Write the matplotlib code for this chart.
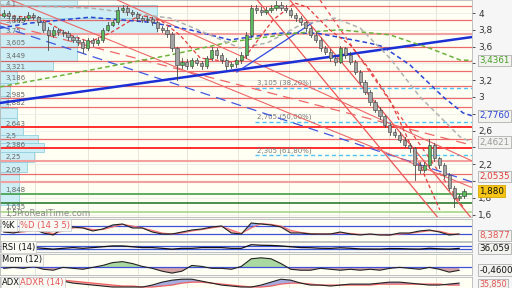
import matplotlib
matplotlib.use("Agg")
import matplotlib.pyplot as plt
from matplotlib.patches import Rectangle

# ---- price data (one candle per session) ----
opens = [3.97, 4.00, 3.96, 3.94, 3.92, 3.94, 3.98, 3.95, 3.89, 3.80, 3.74, 3.80, 3.77, 3.76, 3.71, 3.68,
         3.66, 3.58, 3.68, 3.64, 3.68, 3.80, 3.86, 3.89, 4.04, 4.06, 4.01, 3.99, 3.94, 3.92, 3.93, 3.89,
         3.82, 3.80, 3.75, 3.58, 3.38, 3.42, 3.37, 3.44, 3.41, 3.37, 3.46, 3.56, 3.50, 3.44, 3.37, 3.39,
         3.44, 3.50, 3.74, 4.06, 4.04, 4.01, 4.04, 4.06, 4.10, 4.06, 4.04, 3.98, 3.94, 3.89, 3.82, 3.74,
         3.68, 3.58, 3.54, 3.46, 3.42, 3.58, 3.50, 3.42, 3.30, 3.18, 3.06, 2.94, 2.85, 2.77, 2.67, 2.58,
         2.55, 2.49, 2.43, 2.39, 2.19, 2.13, 2.19, 2.43, 2.27, 2.19, 2.07, 1.92, 1.80, 1.82]
closes = [4.00, 3.96, 3.94, 3.92, 3.94, 3.98, 3.95, 3.89, 3.80, 3.74, 3.80, 3.77, 3.76, 3.71, 3.68, 3.66,
          3.58, 3.68, 3.64, 3.68, 3.80, 3.86, 3.89, 4.04, 4.06, 4.01, 3.99, 3.94, 3.92, 3.93, 3.89, 3.82,
          3.80, 3.75, 3.58, 3.38, 3.42, 3.37, 3.44, 3.41, 3.37, 3.46, 3.56, 3.50, 3.44, 3.37, 3.39, 3.44,
          3.50, 3.74, 4.06, 4.04, 4.01, 4.04, 4.06, 4.10, 4.06, 4.04, 3.98, 3.94, 3.89, 3.82, 3.74, 3.68,
          3.58, 3.54, 3.46, 3.42, 3.58, 3.50, 3.42, 3.30, 3.18, 3.06, 2.94, 2.85, 2.77, 2.67, 2.58, 2.55,
          2.49, 2.43, 2.39, 2.19, 2.13, 2.19, 2.43, 2.27, 2.19, 2.07, 1.92, 1.80, 1.82, 1.88]
highs = [4.03, 4.02, 3.98, 3.96, 3.96, 4.01, 4.00, 3.97, 3.91, 3.83, 3.83, 3.82, 3.80, 3.78, 3.73, 3.71,
         3.68, 3.70, 3.70, 3.71, 3.82, 3.89, 3.92, 4.07, 4.09, 4.08, 4.04, 4.01, 3.96, 3.96, 3.95, 3.91,
         3.85, 3.83, 3.77, 3.60, 3.46, 3.45, 3.47, 3.47, 3.43, 3.49, 3.59, 3.58, 3.52, 3.46, 3.42, 3.47,
         3.53, 3.77, 4.10, 4.10, 4.07, 4.07, 4.09, 4.14, 4.13, 4.09, 4.06, 4.00, 3.96, 3.91, 3.84, 3.77,
         3.70, 3.61, 3.57, 3.49, 3.61, 3.60, 3.53, 3.44, 3.32, 3.20, 3.08, 2.97, 2.88, 2.79, 2.69, 2.62,
         2.58, 2.52, 2.45, 2.41, 2.22, 2.22, 2.50, 2.45, 2.29, 2.21, 2.09, 1.94, 1.85, 1.90]
lows = [3.95, 3.94, 3.91, 3.89, 3.90, 3.92, 3.93, 3.86, 3.77, 3.56, 3.72, 3.74, 3.73, 3.68, 3.65, 3.62,
        3.52, 3.56, 3.61, 3.62, 3.66, 3.78, 3.84, 3.87, 4.01, 3.98, 3.96, 3.91, 3.89, 3.89, 3.86, 3.79,
        3.77, 3.72, 3.55, 3.20, 3.35, 3.33, 3.34, 3.38, 3.33, 3.35, 3.44, 3.47, 3.41, 3.33, 3.34, 3.36,
        3.41, 3.47, 3.72, 4.00, 3.98, 3.99, 4.01, 4.03, 4.03, 4.01, 3.95, 3.91, 3.86, 3.79, 3.71, 3.65,
        3.55, 3.51, 3.43, 3.38, 3.40, 3.47, 3.39, 3.27, 3.15, 3.03, 2.91, 2.82, 2.74, 2.64, 2.55, 2.52,
        2.46, 2.40, 2.35, 2.01, 2.09, 2.11, 2.16, 2.24, 2.16, 2.04, 1.89, 1.69, 1.77, 1.80]

month_starts = [6.3, 17.0, 27.1, 37.0, 47.3, 57.6, 67.7, 77.8, 87.3]

# horizontal support / resistance levels
red_levels = [4.083, 3.917, 3.595, 3.43, 3.31, 3.13, 2.99, 2.88, 2.5, 2.08]
strong_levels = [2.643, 2.39]
soft_levels = [3.75, 2.24, 1.99]
green_levels = [1.845, 1.74, 1.63]
green_colors = ['#43a047', '#2e7d32', '#a5d68a']

# fibonacci retracements
fib_levels = [3.105, 2.705, 2.305]
fib_labels = ['3,105 (38,20%)', '2,705 (50,00%)', '2,305 (61,80%)']
fib_start = 50.8

# volume at price profile
profile_edges = [4.155, 4.095, 3.94, 3.762, 3.595, 3.429, 3.321, 3.167, 3.012, 2.869, 2.75, 2.643,
                 2.548, 2.452, 2.345, 2.226, 2.107, 1.988, 1.845, 1.714]
profile_volume = [15.6, 31.7, 31.7, 15.6, 15.6, 10.7, 3.4, 2.0, 1.6, 3.4, 3.4, 4.6, 7.7, 8.9, 6.9,
                  5.5, 3.8, 3.8, 3.8]
profile_labels = ['4,1', '3,865', '3,75', '3,605', '3,449', '3,321', '3,186', '2,985', '2,882',
                  '2,643', '2,5', '2,386', '2,25', '2,09', '1,848', '1,635']

# moving averages (index, price)
ma_blue_x = [-0.75, 5.3, 17.4, 29.6, 37.6, 45.7, 55.2, 63.3, 67.9, 74.0, 76.6, 82.1, 88.8, 92.8, 94.6]
ma_blue_y = [3.82, 3.88, 3.95, 3.89, 3.80, 3.68, 3.76, 3.76, 3.71, 3.64, 3.60, 3.38, 3.00, 2.81, 2.776]
ma_green_x = [-0.75, 17.4, 33.6, 45.7, 58.9, 67.9, 78.0, 86.1, 92.2, 94.6]
ma_green_y = [3.12, 3.32, 3.50, 3.655, 3.76, 3.80, 3.74, 3.58, 3.44, 3.436]
ma_gray_x = [-0.75, 17.4, 33.6, 41.7, 47.7, 53.2, 59.9, 66.9, 72.0, 78.0, 84.1, 89.2, 92.2, 94.6]
ma_gray_y = [4.095, 4.06, 3.94, 3.738, 3.583, 3.643, 3.857, 3.94, 3.821, 3.464, 3.0, 2.702, 2.524, 2.462]
ma_red_x = [-0.75, 7.3, 13.4, 17.4, 21.5, 27.5, 31.6, 35.6, 39.7, 45.7, 48.3, 54.4, 58.8, 61.3, 65.9,
            70.0, 74.0, 78.0, 84.1, 88.1]
ma_red_y = [3.976, 3.94, 3.738, 3.655, 3.762, 3.976, 3.917, 3.738, 3.464, 3.417, 3.44, 3.917, 4.119,
            4.071, 3.798, 3.619, 3.321, 2.964, 2.19, 1.655]

# trend lines: ((x1, y1), (x2, y2))
trend_main = ((-0.75, 2.929), (94.6, 3.714))
trend_thin = ((47.1, 3.298), (62.3, 3.881))
trend_blue_dash = ((-0.75, 3.845), (94.6, 1.988))
channel_solid = [((51.2, 4.155), (88.1, 1.536)), ((57.8, 4.155), (94.8, 1.536))]
channel_dash = [((63.9, 4.155), (93.2, 1.655))]
fan_lines = [((26.1, 4.071), (94.2, 2.25)), ((17.4, 3.774), (45.7, 3.095))]
fan_dash = [((33.6, 3.357), (67.9, 2.833))]

# indicators, sampled every second session
ind_x = list(range(0, 94, 2))
stoch_k = [40, 35, 45, 55, 35, 25, 60, 65, 60, 45, 55, 75, 80, 60, 60, 40, 30, 30, 40, 50, 55, 65, 70, 35,
           30, 85, 80, 75, 65, 35, 35, 30, 30, 30, 40, 30, 25, 30, 25, 25, 35, 35, 45, 50, 40, 25, 30]
stoch_d = [42, 38, 40, 48, 45, 32, 45, 60, 62, 52, 52, 65, 78, 70, 60, 48, 35, 30, 35, 45, 52, 60, 68, 50,
           33, 60, 82, 78, 70, 48, 38, 32, 30, 30, 35, 33, 28, 28, 27, 25, 30, 33, 40, 46, 44, 32, 28]
rsi = [37, 37, 48, 48, 37, 25, 37, 48, 37, 48, 60, 72, 72, 60, 48, 48, 37, 25, 37, 37, 48, 48, 48, 37,
       37, 90, 82, 80, 72, 60, 48, 46, 38, 36, 45, 38, 28, 27, 26, 34, 33, 28, 26, 38, 30, 25, 36]
mom = [-0.15, 0.0, -0.15, 0.15, -0.3, -0.45, 0.0, -0.15, -0.3, 0.0, 0.3, 0.75, 0.9, 0.6, 0.15, -0.15,
       -0.6, -0.9, -0.6, 0.3, 0.15, -0.15, -0.15, -0.3, 0.15, 1.35, 1.5, 1.35, 0.6, -0.3, -0.45, -0.45,
       -0.15, -0.3, -0.45, -0.3, -0.45, -0.3, -0.45, -0.15, 0.0, -0.15, -0.3, 0.0, -0.3, -0.75, -0.46]
adx = [58, 58, 56, 56, 54, 54, 52, 48, 46, 44, 42, 40, 40, 40, 40, 44, 50, 54, 56, 56, 52, 48, 44, 42,
       40, 40, 44, 50, 56, 54, 48, 44, 44, 42, 44, 46, 46, 46, 48, 50, 50, 48, 46, 44, 44, 46, 48]
adxr = [58, 58, 58, 58, 56, 56, 54, 52, 50, 48, 46, 44, 42, 42, 40, 40, 42, 44, 48, 50, 50, 48, 46, 44,
        42, 40, 40, 42, 46, 48, 48, 46, 44, 44, 44, 44, 44, 44, 46, 46, 46, 46, 46, 46, 46, 44, 44]

BG = '#fffff4'
XL = (-0.75, 94.6)
W, H = 512, 288

fig = plt.figure(figsize=(5.12, 2.88), dpi=100, facecolor='#f6f6f6')


def panel(top, bottom):
    a = fig.add_axes([0, 1 - bottom / H, 472 / W, (bottom - top) / H])
    a.set_facecolor(BG)
    a.set_xlim(*XL)
    a.set_xticks([])
    for s in a.spines.values():
        s.set_color('#b8b8b8')
        s.set_linewidth(0.6)
    for m in month_starts:
        a.axvline(m, color='#e2e2d8', lw=0.6, zorder=0)
    return a


def value_box(a, y, txt, color, fc='#f2f2ee', ec='#b0b0b0', size=6.3):
    a.text(1.015, y, txt, transform=a.get_yaxis_transform(), fontsize=size, color=color,
           va='center', ha='left', clip_on=False, zorder=10,
           bbox=dict(boxstyle='square,pad=0.15', fc=fc, ec=ec, lw=0.6))


def label_box(a, x, txt, color):
    a.text(x, 0.93, txt, transform=a.transAxes, fontsize=6, color=color, va='top', ha='left',
           zorder=10, bbox=dict(boxstyle='square,pad=0.15', fc='#fbfbf6', ec='#c8c8c8', lw=0.5))


# ---------------- main price panel ----------------
ax = panel(0, 217)
ax.set_ylim(1.571, 4.155)
ax.yaxis.tick_right()
ticks = [1.6, 1.8, 2.0, 2.2, 2.4, 2.6, 2.8, 3.0, 3.2, 3.4, 3.6, 3.8, 4.0]
hidden = [2.0, 2.4, 2.8, 3.4]   # covered by the value boxes
ax.set_yticks(ticks)
ax.set_yticklabels(['' if t in hidden else f"{t:g}".replace('.', ',') for t in ticks], fontsize=6.5)
ax.tick_params(axis='y', length=2.5, width=0.6, pad=2, colors='#333333')
for t in ticks:
    ax.axhline(t, color='#ececea', lw=0.6, zorder=0)

# volume profile
for i, v in enumerate(profile_volume):
    lo, hi = profile_edges[i + 1], profile_edges[i]
    ax.add_patch(Rectangle((XL[0], lo + 0.004), v, hi - lo - 0.008, fc='#cdeef4', ec='#93d0dc',
                           lw=0.6, zorder=1))
for lab in profile_labels:
    y = min(float(lab.replace(',', '.')) + 0.005, 4.075)
    y = max(y, 1.66)
    ax.text(0.3, y, lab, fontsize=5, color='#666666', va='bottom', zorder=2)

# horizontal levels
for p in red_levels:
    ax.axhline(p, color='#e8494a', lw=0.9, alpha=0.8, zorder=2)
for p in strong_levels:
    ax.axhline(p, color='#ff1f1f', lw=1.3, zorder=2)
for p in soft_levels:
    ax.axhline(p, color='#f2a0a0', lw=1.5, zorder=2)
for p, c in zip(green_levels, green_colors):
    ax.axhline(p, color=c, lw=1.2, zorder=2)
for p, lab in zip(fib_levels, fib_labels):
    ax.plot([fib_start, XL[1]], [p, p], color='#4fc3f7', lw=1, ls=(0, (3, 2)), zorder=2)
    ax.text(fib_start + 0.4, p + 0.02, lab, fontsize=5, color='#777777', va='bottom', zorder=3)

# trend lines
ax.axline(*trend_main, color='#1a2fd6', lw=1.8, zorder=4)
ax.plot(*zip(*trend_thin), color='#2f49e0', lw=0.9, zorder=4)
ax.axline(*trend_blue_dash, color='#4058e0', lw=0.9, ls=(0, (8, 5)), zorder=3)
for seg in channel_solid:
    ax.plot(*zip(*seg), color='#ee5555', lw=0.9, zorder=3)
for seg in channel_dash:
    ax.plot(*zip(*seg), color='#e44848', lw=0.9, ls=(0, (3, 3)), zorder=3)
for seg in fan_lines:
    ax.axline(*seg, color='#ee6666', lw=0.8, zorder=3)
for seg in fan_dash:
    ax.axline(*seg, color='#ee6666', lw=0.9, ls=(0, (8, 5)), zorder=3)

# moving averages
ax.plot(ma_blue_x, ma_blue_y, color='#2a44d8', lw=1.1, ls=(0, (3, 2)), zorder=4)
ax.plot(ma_green_x, ma_green_y, color='#6cb23a', lw=1.1, ls=(0, (3, 2)), zorder=4)
ax.plot(ma_gray_x, ma_gray_y, color='#b0b0b0', lw=1.1, ls=(0, (3, 2)), zorder=4)
ax.plot(ma_red_x, ma_red_y, color='#e33b3b', lw=0.9, ls=(0, (3, 2)), zorder=4)

# candles
for i, (o, h, l, c) in enumerate(zip(opens, highs, lows, closes)):
    up = c >= o
    ax.plot([i, i], [l, h], color='#4a4a4a', lw=0.6, zorder=5)
    ax.add_patch(Rectangle((i - 0.32, min(o, c)), 0.64, max(abs(c - o), 0.006),
                           fc='#5cb85c' if up else '#a3a3a3', ec='#3b3b3b', lw=0.4, zorder=6))

ax.text(0.3, 1.578, '1,5', fontsize=5.5, color='#777777', zorder=7)
ax.text(2.6, 1.578, 'ProRealTime.com', fontsize=6.2, color='#8a8a8a', zorder=7)

value_box(ax, 3.4361, '3,4361', '#4aa02c')
value_box(ax, 2.7760, '2,7760', '#2a44d8')
value_box(ax, 2.4621, '2,4621', '#9a9a9a')
value_box(ax, 2.0535, '2,0535', '#e33b3b')
value_box(ax, 1.880, '1,880', '#111111', fc='#f6c516', ec='#d9a800')

# ---------------- stochastic ----------------
a1 = panel(219, 241)
a1.set_ylim(-5, 105)
a1.set_yticks([])
for lv in (70, 30):
    a1.axhline(lv, color='#3f51d8', lw=0.9)
a1.fill_between(ind_x, stoch_k, stoch_d, where=[k >= d for k, d in zip(stoch_k, stoch_d)],
                color='#9fb3ee', interpolate=True, lw=0)
a1.fill_between(ind_x, stoch_k, stoch_d, where=[k < d for k, d in zip(stoch_k, stoch_d)],
                color='#f3a8a8', interpolate=True, lw=0)
a1.plot(ind_x, stoch_d, color='#f07070', lw=0.8)
a1.plot(ind_x, stoch_k, color='#222222', lw=0.8)
label_box(a1, 0.004, '%K', '#111111')
label_box(a1, 0.042, '%D (14 3 5)', '#e25555')
value_box(a1, 8.3877 + 15, '8,3877', '#e25555')

# ---------------- RSI ----------------
a2 = panel(242, 252)
a2.set_ylim(-17, 130)
a2.set_yticks([])
for lv in (70, 30):
    a2.axhline(lv, color='#3f51d8', lw=0.9)
a2.plot(ind_x, rsi, color='#111111', lw=0.9)
label_box(a2, 0.004, 'RSI (14)', '#111111')
value_box(a2, 36.059, '36,059', '#111111')

# ---------------- Momentum ----------------
a3 = panel(254, 275)
a3.set_ylim(-1.2, 2.1)
a3.set_yticks([])
a3.fill_between(ind_x, mom, 0, where=[m >= 0 for m in mom], color='#a9d8a0', interpolate=True, lw=0)
a3.fill_between(ind_x, mom, 0, where=[m < 0 for m in mom], color='#d6a4a4', interpolate=True, lw=0)
a3.axhline(0, color='#3f51d8', lw=0.9)
a3.plot(ind_x, mom, color='#222222', lw=0.8)
label_box(a3, 0.004, 'Mom (12)', '#111111')
value_box(a3, -0.46, '-0,4600', '#111111')

# ---------------- ADX ----------------
a4 = panel(277, 288)
a4.set_ylim(38, 60.5)
a4.set_yticks([])
a4.fill_between(ind_x, adx, adxr, where=[x >= y for x, y in zip(adx, adxr)], color='#a7addf',
                interpolate=True, lw=0)
a4.fill_between(ind_x, adx, adxr, where=[x < y for x, y in zip(adx, adxr)], color='#f3b0b0',
                interpolate=True, lw=0)
a4.plot(ind_x, adxr, color='#ee6060', lw=0.9)
a4.plot(ind_x, adx, color='#222222', lw=0.8)
label_box(a4, 0.004, 'ADX', '#111111')
label_box(a4, 0.042, 'ADXR (14)', '#e25555')
value_box(a4, 45, '35,850', '#e25555', size=5.8)

fig.savefig('out.png', dpi=100, facecolor=fig.get_facecolor())
